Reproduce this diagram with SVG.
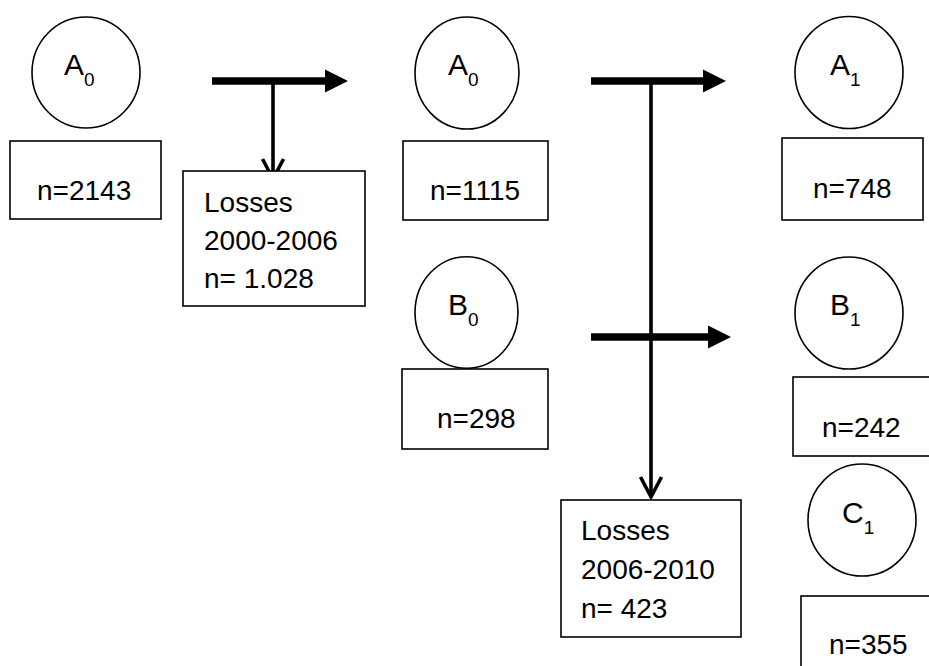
<svg xmlns="http://www.w3.org/2000/svg" width="929" height="666" viewBox="0 0 929 666">
  <style>
    .node { fill: #ffffff; stroke: #000000; stroke-width: 1.6; }
    .lbl { font-family: "Liberation Sans", Arial, sans-serif; font-size: 28px; fill: #000000; }
    .sym { font-family: "Liberation Sans", Arial, sans-serif; font-size: 30px; fill: #000000; }
    .sub { font-size: 19px; }
    .thick { stroke: #000000; stroke-width: 7.7; fill: none; }
    .thin { stroke: #000000; stroke-width: 3.6; fill: none; }
  </style>
  <defs>
    <marker id="headThick" markerUnits="userSpaceOnUse" viewBox="0 0 24 24" markerWidth="24" markerHeight="24" refX="0" refY="12" orient="auto" overflow="visible">
      <path d="M0,0.5 L23,12 L0,23.5 Z" fill="#000000"/>
    </marker>
    <marker id="headOpen" markerUnits="userSpaceOnUse" viewBox="-24 -14 28 28" markerWidth="28" markerHeight="28" refX="0" refY="0" orient="auto" overflow="visible">
      <path d="M-20,-10.5 L0,0 L-20,10.5" fill="none" stroke="#000000" stroke-width="3.6" stroke-linejoin="miter"/>
    </marker>
  </defs>

  <g id="connectors">
    <line class="thick" x1="212" y1="81" x2="325" y2="81" marker-end="url(#headThick)"/>
    <line class="thin" x1="273" y1="81" x2="273" y2="179" marker-end="url(#headOpen)"/>
    <line class="thick" x1="591" y1="81" x2="703" y2="81" marker-end="url(#headThick)"/>
    <line class="thin" x1="651" y1="81" x2="651" y2="497" marker-end="url(#headOpen)"/>
    <line class="thick" x1="591" y1="337" x2="708" y2="337" marker-end="url(#headThick)"/>
  </g>

  <g id="circle-A0-left">
    <ellipse class="node" cx="86" cy="72.5" rx="54" ry="55.5"/>
    <text class="sym" x="64" y="75">A<tspan class="sub" dy="11">0</tspan></text>
  </g>
  <g id="box-n2143">
    <rect class="node" x="10" y="141" width="151" height="78"/>
    <text class="lbl" x="37" y="200">n=2143</text>
  </g>
  <g id="box-losses-2000-2006">
    <rect class="node" x="183" y="171" width="182" height="135"/>
    <text class="lbl" x="204" y="212">Losses</text>
    <text class="lbl" x="204" y="250">2000-2006</text>
    <text class="lbl" x="204" y="288">n= 1.028</text>
  </g>

  <g id="circle-A0-mid">
    <ellipse class="node" cx="467" cy="73" rx="52" ry="56"/>
    <text class="sym" x="448" y="75">A<tspan class="sub" dy="11">0</tspan></text>
  </g>
  <g id="box-n1115">
    <rect class="node" x="403" y="141" width="145" height="79"/>
    <text class="lbl" x="430" y="200">n=1115</text>
  </g>

  <g id="circle-B0">
    <ellipse class="node" cx="466.5" cy="312.5" rx="51.5" ry="55.8"/>
    <text class="sym" x="448" y="315">B<tspan class="sub" dy="11">0</tspan></text>
  </g>
  <g id="box-n298">
    <rect class="node" x="402" y="369" width="146" height="80"/>
    <text class="lbl" x="437" y="428">n=298</text>
  </g>

  <g id="circle-A1">
    <ellipse class="node" cx="849" cy="72.5" rx="54" ry="56"/>
    <text class="sym" x="830" y="75">A<tspan class="sub" dy="11">1</tspan></text>
  </g>
  <g id="box-n748">
    <rect class="node" x="782" y="138" width="141" height="82"/>
    <text class="lbl" x="813" y="198">n=748</text>
  </g>

  <g id="circle-B1">
    <ellipse class="node" cx="849" cy="313" rx="54" ry="56"/>
    <text class="sym" x="830" y="315">B<tspan class="sub" dy="11">1</tspan></text>
  </g>
  <g id="box-n242">
    <rect class="node" x="793" y="377" width="150" height="79"/>
    <text class="lbl" x="822" y="437">n=242</text>
  </g>

  <g id="box-losses-2006-2010">
    <rect class="node" x="561" y="500" width="180" height="137"/>
    <text class="lbl" x="581" y="540">Losses</text>
    <text class="lbl" x="581" y="579">2006-2010</text>
    <text class="lbl" x="581" y="618">n= 423</text>
  </g>

  <g id="circle-C1">
    <ellipse class="node" cx="862" cy="520" rx="54" ry="56"/>
    <text class="sym" x="842" y="523">C<tspan class="sub" dy="11">1</tspan></text>
  </g>
  <g id="box-n355">
    <rect class="node" x="801" y="596" width="150" height="90"/>
    <text class="lbl" x="829" y="654">n=355</text>
  </g>
</svg>
